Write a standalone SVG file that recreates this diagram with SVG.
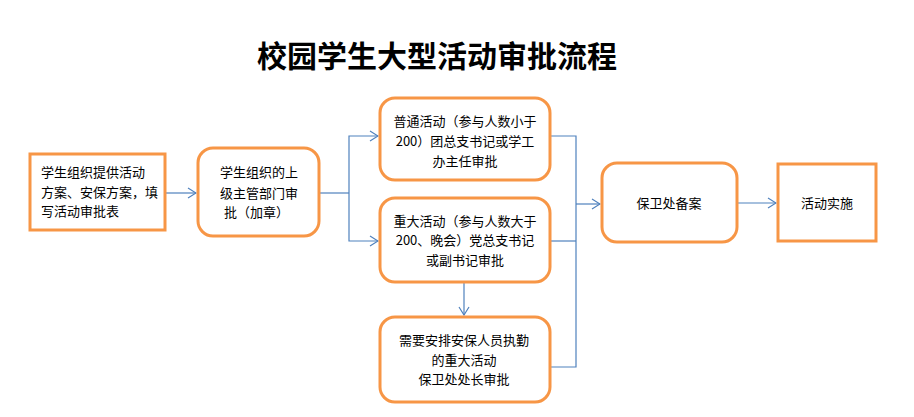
<svg xmlns="http://www.w3.org/2000/svg" width="914" height="417" viewBox="0 0 914 417">
<style>
.box{fill:#ffffff;stroke:#F79646;stroke-width:3}
.t{font-family:"Noto Sans CJK SC","Liberation Sans",sans-serif;font-size:13px;fill:#000}
.c{text-anchor:middle}
.title{font-family:"Noto Sans CJK SC",sans-serif;font-size:30px;font-weight:bold;fill:#000;text-anchor:middle}
.ln{fill:none;stroke:#4F81BD;stroke-width:1.2}
</style>
<defs>
<marker id="ar" markerWidth="10" markerHeight="12" refX="9" refY="6" orient="auto" markerUnits="userSpaceOnUse">
<path d="M1,1 L9,6 L1,11" fill="none" stroke="#4F81BD" stroke-width="1.2"/>
</marker>
</defs>
<rect width="914" height="417" fill="#ffffff"/>
<text class="title" x="437" y="67">校园学生大型活动审批流程</text>
<g id="connectors">
<path class="ln" d="M165,193 H196" marker-end="url(#ar)"/>
<path class="ln" d="M319,193 H349"/>
<path class="ln" d="M349,193 V136 H378" marker-end="url(#ar)"/>
<path class="ln" d="M349,193 V241 H378" marker-end="url(#ar)"/>
<path class="ln" d="M550,136 H576 V367 H550"/>
<path class="ln" d="M550,241 H576"/>
<path class="ln" d="M576,204 H600" marker-end="url(#ar)"/>
<path class="ln" d="M464,282 V315" marker-end="url(#ar)"/>
<path class="ln" d="M737,203 H776" marker-end="url(#ar)"/>
</g>
<g id="n1">
<rect class="box" x="30" y="154" width="135" height="76"/>
<text class="t" x="41" y="177">学生组织提供活动</text>
<text class="t" x="41" y="197">方案、安保方案，填</text>
<text class="t" x="41" y="216">写活动审批表</text>
</g>
<g id="n2">
<rect class="box" x="198" y="148" width="121" height="88" rx="15"/>
<text class="t" x="220" y="177">学生组织的上</text>
<text class="t" x="220" y="198">级主管部门审</text>
<text class="t" x="224" y="217">批（加章）</text>
</g>
<g id="n3">
<rect class="box" x="380" y="98" width="170" height="82" rx="15"/>
<text class="t c" x="465" y="126">普通活动（参与人数小于</text>
<text class="t c" x="465" y="146">200）团总支书记或学工</text>
<text class="t c" x="465" y="166">办主任审批</text>
</g>
<g id="n4">
<rect class="box" x="380" y="198" width="170" height="84" rx="15"/>
<text class="t c" x="465" y="226">重大活动（参与人数大于</text>
<text class="t c" x="465" y="245">200、晚会）党总支书记</text>
<text class="t c" x="465" y="265">或副书记审批</text>
</g>
<g id="n5">
<rect class="box" x="380" y="317" width="170" height="85" rx="15"/>
<text class="t c" x="464" y="345">需要安排安保人员执勤</text>
<text class="t c" x="464" y="365">的重大活动</text>
<text class="t c" x="464" y="384">保卫处处长审批</text>
</g>
<g id="n6">
<rect class="box" x="602" y="163" width="135" height="79" rx="15"/>
<text class="t c" x="669" y="208">保卫处备案</text>
</g>
<g id="n7">
<rect class="box" x="778" y="164" width="98" height="77"/>
<text class="t c" x="827" y="208">活动实施</text>
</g>
</svg>
